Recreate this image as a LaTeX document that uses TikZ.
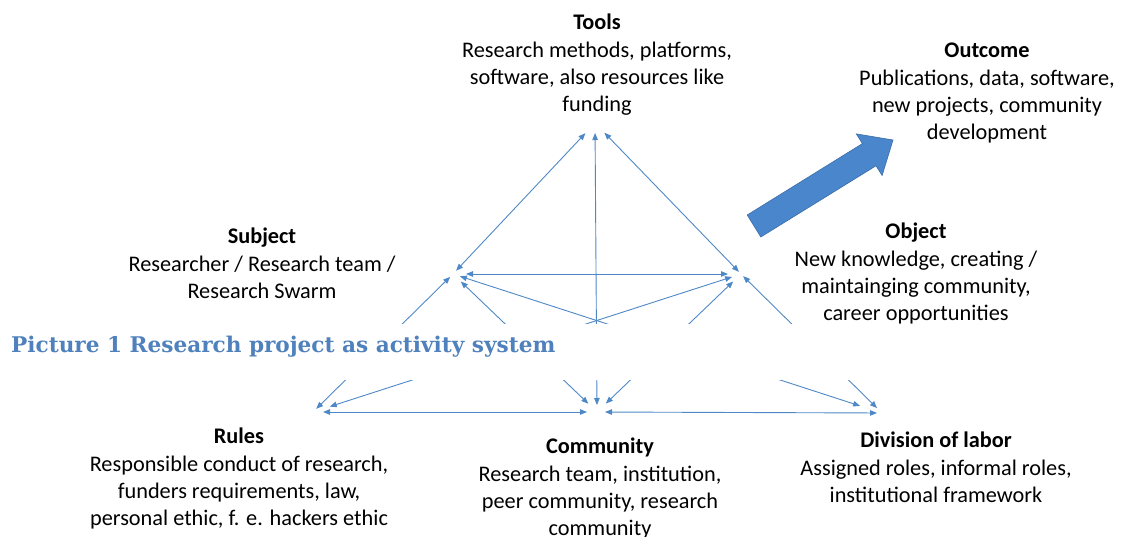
\documentclass[tikz,border=0pt]{standalone}
\usepackage{fontspec}
\setmainfont{Carlito}
\newfontfamily\captionfont{DejaVu Serif}
\usetikzlibrary{arrows.meta}
\definecolor{linkblue}{RGB}{79,136,199}
\definecolor{bigblue}{RGB}{74,134,203}
\definecolor{bigedge}{RGB}{58,108,168}
\definecolor{captionblue}{RGB}{79,129,189}

\begin{document}
\begin{tikzpicture}[x=1pt, y=-1pt, every node/.style={align=center},
    blocktext/.style={font=\fontsize{22.3}{27.3}\selectfont, inner sep=0pt, anchor=north},
    link/.style={draw=linkblue, line width=0.9pt,
        {Triangle[length=7pt,width=5.5pt]}-{Triangle[length=7pt,width=5.5pt]}}]
    \useasboundingbox (0,0) rectangle (1126,537);

    % Corners of the triangle
    \coordinate (tp) at (595,123);
    \coordinate (sp) at (453,274);
    \coordinate (op) at (741,274);
    \coordinate (rp) at (313,412);
    \coordinate (cp) at (597,412);
    \coordinate (dp) at (882,413);

    % Connectors
    \draw[link, shorten <=14pt, shorten >=4.5pt] (tp) -- (sp);
    \draw[link, shorten <=13.5pt, shorten >=3pt] (tp) -- (op);
    \draw[link, shorten <=10pt, shorten >=7pt] (tp) -- (cp);
    \draw[link, shorten <=13pt, shorten >=13pt] (sp) -- (op);
    \draw[link, shorten <=10.8pt, shorten >=12pt] (sp) -- (cp);
    \draw[link, shorten <=7.2pt, shorten >=23pt] (sp) -- (dp);
    \draw[link, shorten <=10.8pt, shorten >=12.2pt] (op) -- (cp);
    \draw[link, shorten <=9.4pt, shorten >=17.6pt] (op) -- (rp);
    \draw[link, shorten <=4pt, shorten >=4.5pt] (sp) -- (rp);
    \draw[link, shorten <=3pt, shorten >=7pt] (op) -- (dp);
    \draw[link, shorten <=10pt, shorten >=10pt] (rp) -- (cp);
    \draw[link, shorten <=8pt, shorten >=5pt] (cp) -- (dp);

    % Caption band
    \fill[white] (0,324) rectangle (1126,380);
    \node[anchor=base west, inner sep=0pt, text=captionblue,
        font=\captionfont\bfseries\fontsize{21.6}{26}\selectfont] (caption) at (11,352)
        {Picture 1 Research project as activity system};

    % Corner texts
    \node[blocktext] (tools) at (597,14) {\textbf{Tools}\\Research methods, platforms,\\software, also resources like\\funding};
    \node[blocktext] (outcome) at (987,43) {\textbf{Outcome}\\Publications, data, software,\\new projects, community\\development};
    \node[blocktext] (object) at (916,223) {\textbf{Object}\\New knowledge, creating /\\maintainging community,\\career opportunities};
    \node[blocktext] (subject) at (262,228) {\textbf{Subject}\\Researcher / Research team /\\Research Swarm};
    \node[blocktext] (rules) at (239,428) {\textbf{Rules}\\Responsible conduct of research,\\funders requirements, law,\\personal ethic, f. e. hackers ethic};
    \node[blocktext] (community) at (600,438) {\textbf{Community}\\Research team, institution,\\peer community, research\\community};
    \node[blocktext] (division) at (936,432) {\textbf{Division of labor}\\Assigned roles, informal roles,\\institutional framework};

    % Outcome arrow
    \filldraw[fill=bigblue, draw=bigedge, line width=0.6pt] (747.2,215) -- (862.4,143.6) -- (856.3,133.9)
        -- (893,140) -- (882.1,175.5) -- (876,165.8) -- (760.8,237) -- cycle;
\end{tikzpicture}
\end{document}
